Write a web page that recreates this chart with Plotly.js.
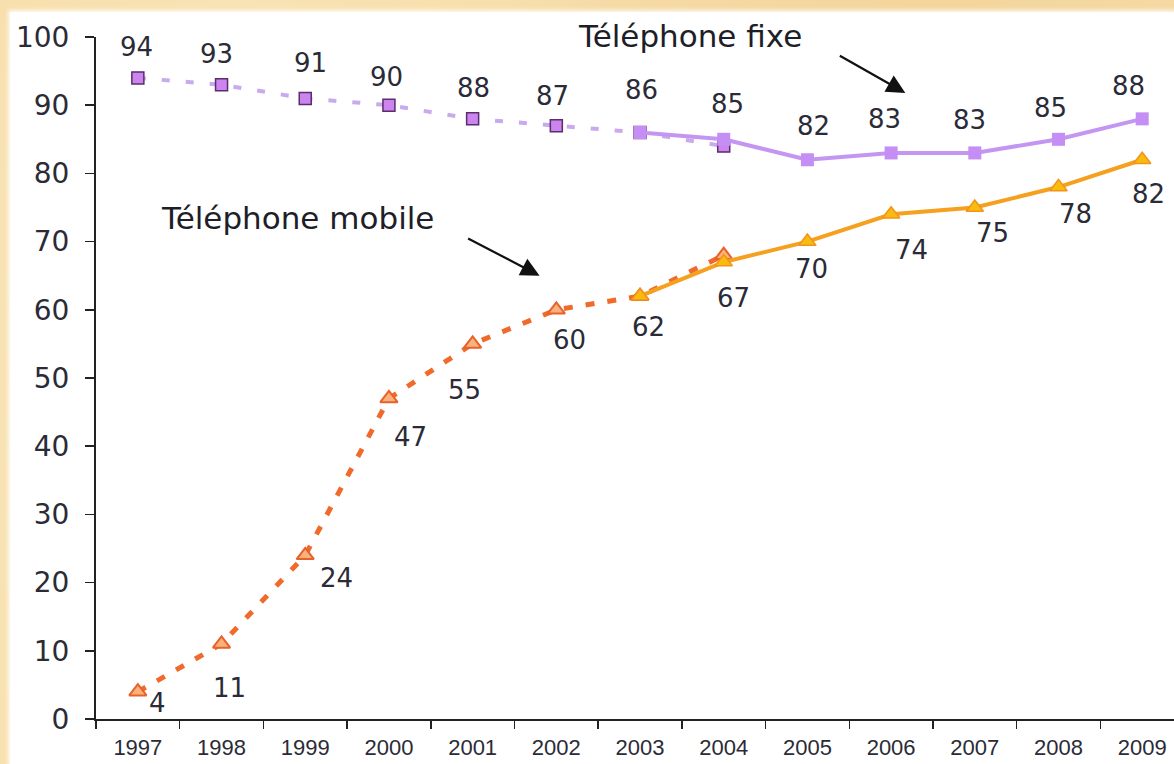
<!DOCTYPE html>
<html>
<head>
<meta charset="utf-8">
<script src="https://cdn.plot.ly/plotly-3.0.1.min.js"></script>
<style>
  html, body { margin: 0; padding: 0; width: 1174px; height: 764px; overflow: hidden; }
  body {
    background: #f6dca8;
    background-image:
      radial-gradient(circle at 20% 30%, rgba(255,240,205,0.6) 0, rgba(255,240,205,0) 40%),
      radial-gradient(circle at 80% 10%, rgba(240,205,140,0.5) 0, rgba(240,205,140,0) 35%),
      radial-gradient(circle at 5% 85%, rgba(250,230,185,0.7) 0, rgba(250,230,185,0) 30%);
  }
  #panel { position: absolute; left: 10px; top: 12px; width: 1164px; height: 752px; background: #ffffff; box-shadow: 0 0 4px 2px rgba(255,255,255,0.8); }
  #chart { position: absolute; left: 0; top: 0; width: 1174px; height: 764px; }
</style>
</head>
<body>
<div id="panel"></div>
<div id="chart"></div>
<script>
// ---- Data ----
const years = ['1997','1998','1999','2000','2001','2002','2003','2004','2005','2006','2007','2008','2009'];

// Téléphone fixe
const fixeEstimYears = ['1997','1998','1999','2000','2001','2002','2003','2004'];
const fixeEstim = [94, 93, 91, 90, 88, 87, 86, 84];
const fixeYears = ['2003','2004','2005','2006','2007','2008','2009'];
const fixe = [86, 85, 82, 83, 83, 85, 88];

// Téléphone mobile
const mobileEstimYears = ['1997','1998','1999','2000','2001','2002','2003','2004'];
const mobileEstim = [4, 11, 24, 47, 55, 60, 62, 68];
const mobileYears = ['2003','2004','2005','2006','2007','2008','2009'];
const mobile = [62, 67, 70, 74, 75, 78, 82];

const yTicks = [0, 10, 20, 30, 40, 50, 60, 70, 80, 90, 100];

// ---- Label placement (pixel offsets, style only) ----
const fixeLabelShift = [[-1,31],[-5,31],[5,35],[-2,28],[1,31],[-4,30],[1,42],[4,35],[6,34],[-7,34],[-5,33],[-8,31],[-14,33]];
const mobileLabelShift = [[20,-11],[8,-44],[31,-23],[22,-39],[-8,-46],[13,-30],[8,-31],[10,-36],[4,-27],[20,-36],[18,-25],[17,-27],[6,-34]];

// combined label series: estimated values up to 2002, measured from 2003
function labelSeries(estYears, est, realYears, real) {
  return years.map(function (y) {
    const ri = realYears.indexOf(y);
    if (ri >= 0) return real[ri];
    return est[estYears.indexOf(y)];
  });
}
const fixeLabels = labelSeries(fixeEstimYears, fixeEstim, fixeYears, fixe);
const mobileLabels = labelSeries(mobileEstimYears, mobileEstim, mobileYears, mobile);

const numFont = { family: 'DejaVu Sans, Verdana, sans-serif', size: 26, color: '#2b2b38' };

const traces = [
  {
    x: fixeEstimYears, y: fixeEstim, type: 'scatter', mode: 'lines+markers',
    line: { color: '#c9aaec', width: 4, dash: '8px,16px' },
    marker: { symbol: 'square', size: 12, color: '#cc84ee', line: { color: '#5a2d6e', width: 1.5 } },
    hoverinfo: 'skip', showlegend: false
  },
  {
    x: mobileEstimYears, y: mobileEstim, type: 'scatter', mode: 'lines+markers',
    line: { color: '#f06a2c', width: 5, dash: '9px,13px' },
    marker: { symbol: 'triangle-up', size: 15, color: '#fab27a', line: { color: '#e6622a', width: 2 } },
    hoverinfo: 'skip', showlegend: false
  },
  {
    x: fixeYears, y: fixe, type: 'scatter', mode: 'lines+markers',
    line: { color: '#c496f2', width: 4 },
    marker: { symbol: 'square', size: 13, color: '#c48ef4' },
    hoverinfo: 'skip', showlegend: false
  },
  {
    x: mobileYears, y: mobile, type: 'scatter', mode: 'lines+markers',
    line: { color: '#f5a01e', width: 4 },
    marker: { symbol: 'triangle-up', size: 15, color: '#f9bb10', line: { color: '#f29418', width: 1.5 } },
    hoverinfo: 'skip', showlegend: false
  }
];

const annotations = [];
years.forEach(function (yr, i) {
  annotations.push({
    x: i, y: fixeLabels[i], xref: 'x', yref: 'y', text: String(fixeLabels[i]),
    showarrow: false, xanchor: 'center', yanchor: 'middle',
    xshift: fixeLabelShift[i][0], yshift: fixeLabelShift[i][1], font: Object.assign({}, numFont)
  });
  annotations.push({
    x: i, y: mobileLabels[i], xref: 'x', yref: 'y', text: String(mobileLabels[i]),
    showarrow: false, xanchor: 'center', yanchor: 'middle',
    xshift: mobileLabelShift[i][0], yshift: mobileLabelShift[i][1], font: Object.assign({}, numFont)
  });
});

const nameFont = { family: 'DejaVu Sans, Verdana, sans-serif', size: 31, color: '#1e1e28' };
annotations.push({ x: 6.6, y: 99.5, xref: 'x', yref: 'y', yshift: 4, text: 'Téléphone fixe', showarrow: false, xanchor: 'center', yanchor: 'middle', font: nameFont });
annotations.push({ x: 1.91, y: 73.5, xref: 'x', yref: 'y', text: 'Téléphone mobile', showarrow: false, xanchor: 'center', yanchor: 'middle', font: nameFont });
annotations.push({ x: 9.17, y: 91.8, xref: 'x', yref: 'y', text: '', showarrow: true, ax: -67, ay: -38, arrowhead: 2, arrowsize: 1.7, arrowwidth: 2.2, arrowcolor: '#111' });
annotations.push({ x: 4.80, y: 65.0, xref: 'x', yref: 'y', text: '', showarrow: true, ax: -73, ay: -38, arrowhead: 2, arrowsize: 1.7, arrowwidth: 2.2, arrowcolor: '#111' });

const layout = {
  width: 1174, height: 764,
  margin: { l: 96, r: 0, t: 37, b: 45, pad: 0 },
  paper_bgcolor: 'rgba(0,0,0,0)',
  plot_bgcolor: 'rgba(0,0,0,0)',
  showlegend: false,
  xaxis: {
    type: 'category', categoryorder: 'array', categoryarray: years,
    range: [-0.5, 12.38], tickson: 'boundaries',
    showgrid: false, zeroline: false,
    showline: true, linecolor: '#222', linewidth: 2,
    ticks: 'outside', ticklen: 8, tickwidth: 1.5, tickcolor: '#222',
    tickfont: { family: 'Liberation Sans Narrow, Arial Narrow, Liberation Sans, sans-serif', size: 22, color: '#2b2b38' },
    ticklabelstandoff: 8,
    fixedrange: true
  },
  yaxis: {
    range: [0, 100], tickvals: yTicks, ticktext: yTicks.map(String),
    showgrid: false, zeroline: false,
    showline: true, linecolor: '#222', linewidth: 2,
    ticks: 'outside', ticklen: 9, tickwidth: 1.5, tickcolor: '#222',
    tickfont: { family: 'DejaVu Sans, Verdana, sans-serif', size: 28, color: '#2b2b38' },
    ticklabelstandoff: 10,
    fixedrange: true
  },
  annotations: annotations
};

Plotly.newPlot('chart', traces, layout, { displayModeBar: false, staticPlot: true });
</script>
</body>
</html>
